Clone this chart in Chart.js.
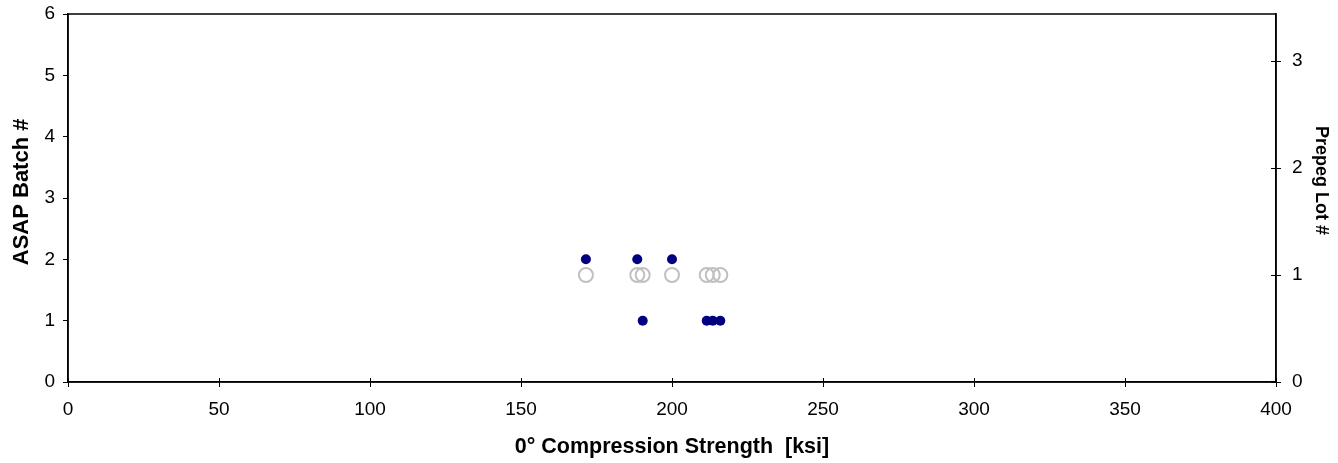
<!DOCTYPE html>
<html>
<head>
<meta charset="utf-8">
<script src="https://cdn.jsdelivr.net/npm/chart.js@4"></script>
<style>
  html, body { margin: 0; padding: 0; background: #fff; }
  #wrap { width: 1338px; height: 463px; }
</style>
</head>
<body>
<div id="wrap"><canvas id="myChart" width="1338" height="463"></canvas></div>
<script>
'use strict';
// data
let strength = [171.5, 188.5, 190.3, 200, 211.5, 213.5, 216];
let batchNo = [2, 2, 1, 2, 1, 1, 1];
let lotNo = [1, 1, 1, 1, 1, 1, 1];
let xTicks = [0, 50, 100, 150, 200, 250, 300, 350, 400];
let batchTicks = [0, 1, 2, 3, 4, 5, 6];
let lotTicks = [0, 1, 2, 3];

let batchPoints = strength.map(function (v, i) { return { x: v, y: batchNo[i] }; });
let lotPoints = strength.map(function (v, i) { return { x: v, y: lotNo[i] }; });

Chart.defaults.font.family = '"Liberation Sans", Arial, sans-serif';
Chart.defaults.color = '#000';

// box round the plot area plus the inner half of tick marks
let frame = {
    id: 'frame',
    afterDraw: function (chart) {
        let c = chart.ctx, a = chart.chartArea;
        c.save();
        c.strokeStyle = '#000';
        c.lineWidth = 1.5;
        c.strokeRect(a.left, a.top, a.right - a.left, a.bottom - a.top);
        c.lineWidth = 1;
        let xs = chart.scales.x, y2 = chart.scales.y2;
        xTicks.forEach(function (t) {
            let px = Math.round(xs.getPixelForValue(t)) + 0.5;
            c.beginPath(); c.moveTo(px, a.bottom); c.lineTo(px, a.bottom - 4); c.stroke();
        });
        lotTicks.forEach(function (t) {
            let py = Math.round(y2.getPixelForValue(t)) + 0.5;
            c.beginPath(); c.moveTo(a.right, py); c.lineTo(a.right - 5, py); c.stroke();
        });
        c.restore();
    }
};

// vertical axes: width fixed, no label overflow padding
function fitSide(w) {
    return function (s) {
        s.width = w;
        s.paddingTop = 0;
        s.paddingBottom = 0;
    };
}

let ctx = document.getElementById('myChart').getContext('2d');
let myChart = new Chart(ctx, {
    type: 'scatter',
    data: {
        datasets: [{
            label: 'Prepreg Lot',
            data: lotPoints,
            yAxisID: 'y2',
            pointRadius: 7,
            pointBorderWidth: 2,
            pointBackgroundColor: 'rgba(0,0,0,0)',
            pointBorderColor: '#c0c0c0',
            showLine: false
        }, {
            label: 'ASAP Batch',
            data: batchPoints,
            yAxisID: 'y',
            pointRadius: 5,
            pointBorderWidth: 0,
            pointBackgroundColor: '#000080',
            pointBorderColor: '#000080',
            showLine: false
        }]
    },
    options: {
        responsive: false,
        animation: false,
        layout: { padding: { top: 14, left: 0, right: 0, bottom: 0 } },
        plugins: { legend: { display: false }, tooltip: { enabled: false } },
        scales: {
            x: {
                type: 'linear',
                min: 0, max: 400,
                afterBuildTicks: function (s) { s.ticks = xTicks.map(function (v) { return { value: v }; }); },
                afterFit: function (s) { s.height = 81; s.paddingLeft = 0; s.paddingRight = 0; },
                grid: { drawOnChartArea: false, tickLength: 5, color: '#000', tickWidth: 1 },
                border: { display: true, color: '#000', width: 1.5 },
                ticks: { font: { size: 19 }, padding: 11, maxRotation: 0 },
                title: { display: true, text: '0° Compression Strength  [ksi]', font: { size: 21.5, weight: 'bold' }, padding: { top: 0, bottom: 3 } }
            },
            y: {
                position: 'left',
                min: 0, max: 6,
                afterBuildTicks: function (s) { s.ticks = batchTicks.map(function (v) { return { value: v }; }); },
                afterFit: fitSide(68),
                grid: { drawOnChartArea: false, tickLength: 5, color: '#000' },
                border: { display: true, color: '#000', width: 1.5 },
                ticks: { font: { size: 19 }, padding: 8 },
                title: { display: true, text: '  ASAP Batch #', font: { size: 22, weight: 'bold' }, padding: { top: 9, bottom: 0 } }
            },
            y2: {
                position: 'right',
                min: 0, max: 3.44,
                afterBuildTicks: function (s) { s.ticks = lotTicks.map(function (v) { return { value: v }; }); },
                afterFit: fitSide(62),
                grid: { drawOnChartArea: false, tickLength: 5, color: '#000' },
                border: { display: true, color: '#000', width: 1.5 },
                ticks: { font: { size: 19 }, padding: 11 },
                title: { display: true, text: 'Prepeg Lot #       ', font: { size: 18, weight: 'bold' }, padding: { top: 6, bottom: 0 } }
            }
        }
    },
    plugins: [frame]
});
</script>
</body>
</html>
